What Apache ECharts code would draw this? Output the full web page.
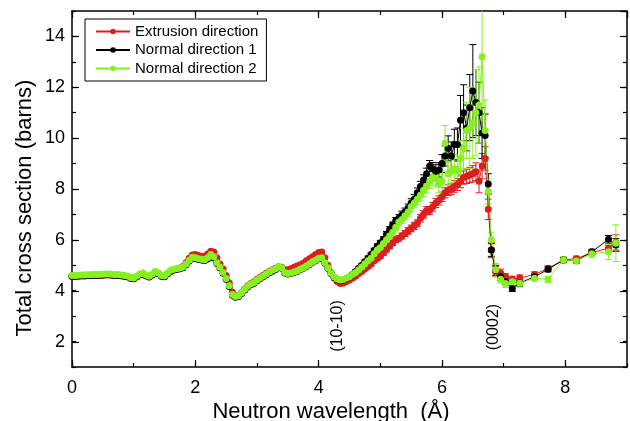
<!DOCTYPE html>
<html><head><meta charset="utf-8">
<script src="https://cdn.jsdelivr.net/npm/echarts@6/dist/echarts.min.js"></script>
<style>html,body{margin:0;padding:0;background:#fff}#c{width:630px;height:421px}</style>
</head><body><div id="c"></div>
<script>
// ---- data ----
const seriesNames = ['Extrusion direction', 'Normal direction 1', 'Normal direction 2'];
const wlDense = [
0.00,0.05,0.10,0.15,0.20,0.25,0.30,0.35,0.40,0.45,
0.50,0.55,0.60,0.65,0.70,0.75,0.80,0.85,0.90,0.95,
1.00,1.05,1.10,1.15,1.20,1.25,1.30,1.35,1.40,1.45,
1.50,1.55,1.60,1.65,1.70,1.75,1.80,1.85,1.90,1.95,
2.00,2.05,2.10,2.15,2.20,2.25,2.30,2.35,2.40,2.45,
2.50,2.55,2.60,2.65,2.70,2.75,2.80,2.85,2.90,2.95,
3.00,3.05,3.10,3.15,3.20,3.25,3.30,3.35,3.40,3.45,
3.50,3.55,3.60,3.65,3.70,3.75,3.80,3.85,3.90,3.95,
4.00,4.05,4.10,4.15,4.20,4.25,4.30,4.35,4.40,4.45,
4.50,4.55,4.60,4.65,4.70,4.75,4.80,4.85,4.90,4.95,
5.00,5.05,5.10,5.15,5.20,5.25,5.30,5.35,5.40,5.45,
5.50,5.55,5.60,5.65,5.70,5.75,5.80,5.85,5.90,5.95,
6.00,6.05,6.10,6.15,6.20,6.25,6.30,6.35,6.40,6.45,
6.50,6.55,6.60,6.65,6.70,6.75,6.80];
const wlSparse = [6.87,6.95,7.03,7.14,7.26,7.50,7.72,7.97,8.18,8.43,8.70,8.82];

const extDense = [
4.56,4.57,4.57,4.58,4.58,4.59,4.59,4.60,4.60,4.60,
4.61,4.62,4.62,4.61,4.60,4.60,4.59,4.57,4.55,4.50,
4.48,4.55,4.63,4.67,4.60,4.55,4.62,4.73,4.68,4.58,
4.56,4.67,4.77,4.82,4.85,4.89,4.95,5.10,5.28,5.40,
5.42,5.38,5.36,5.36,5.44,5.55,5.52,5.30,5.05,4.85,
4.60,4.30,3.95,3.80,3.80,3.92,4.07,4.20,4.28,4.35,
4.45,4.53,4.61,4.69,4.76,4.82,4.88,4.94,4.92,4.82,
4.82,4.86,4.92,4.97,5.02,5.08,5.18,5.26,5.34,5.42,
5.50,5.52,5.30,5.00,4.72,4.50,4.36,4.28,4.30,4.36,
4.42,4.50,4.58,4.68,4.76,4.86,4.95,5.05,5.18,5.28,
5.36,5.48,5.62,5.75,5.88,6.00,6.06,6.15,6.25,6.35,
6.45,6.55,6.65,6.85,7.00,7.15,7.15,7.30,7.45,7.55,
7.70,7.85,7.95,8.00,8.10,8.18,8.30,8.45,8.50,8.55,
8.60,8.68,8.30,8.90,9.20,7.20,5.60];
const n1Dense = [
4.57,4.57,4.58,4.59,4.59,4.60,4.60,4.61,4.61,4.61,
4.62,4.63,4.63,4.62,4.60,4.61,4.59,4.57,4.55,4.49,
4.47,4.55,4.63,4.67,4.59,4.54,4.62,4.73,4.67,4.57,
4.55,4.67,4.77,4.81,4.83,4.86,4.90,5.02,5.17,5.29,
5.27,5.23,5.21,5.19,5.25,5.38,5.29,5.07,4.89,4.69,
4.45,4.17,3.82,3.74,3.77,3.89,4.03,4.15,4.23,4.29,
4.39,4.47,4.55,4.63,4.71,4.77,4.83,4.91,4.88,4.70,
4.66,4.68,4.72,4.76,4.82,4.88,4.95,5.03,5.12,5.18,
5.26,5.28,5.08,4.88,4.68,4.53,4.44,4.40,4.42,4.48,
4.54,4.64,4.76,4.88,5.00,5.14,5.28,5.42,5.58,5.75,
5.88,6.02,6.22,6.40,6.58,6.75,6.85,6.98,7.10,7.25,
7.45,7.60,7.85,8.10,8.35,8.60,8.90,8.80,8.70,8.75,
9.00,9.30,9.60,9.30,9.75,9.75,10.70,11.00,10.40,11.20,
11.85,11.40,11.00,10.20,10.10,8.20,5.60];
const n2Dense = [
4.60,4.60,4.61,4.62,4.62,4.63,4.63,4.64,4.64,4.64,
4.65,4.66,4.66,4.65,4.63,4.64,4.62,4.60,4.58,4.52,
4.50,4.58,4.66,4.70,4.62,4.57,4.65,4.76,4.70,4.60,
4.58,4.70,4.80,4.84,4.86,4.89,4.93,5.05,5.20,5.32,
5.30,5.26,5.24,5.22,5.30,5.42,5.34,5.10,4.92,4.72,
4.48,4.20,3.85,3.77,3.80,3.92,4.06,4.18,4.26,4.32,
4.42,4.50,4.58,4.66,4.74,4.80,4.86,4.94,4.90,4.72,
4.68,4.70,4.74,4.78,4.84,4.90,4.97,5.05,5.14,5.20,
5.28,5.30,5.10,4.90,4.70,4.55,4.46,4.42,4.44,4.50,
4.55,4.64,4.72,4.82,4.93,5.06,5.18,5.28,5.45,5.60,
5.70,5.86,6.00,6.15,6.30,6.50,6.70,6.80,6.95,7.10,
7.30,7.45,7.60,7.75,7.95,8.10,8.30,8.45,8.40,8.20,
8.30,9.80,8.60,8.70,8.80,8.70,9.20,9.60,10.30,10.40,
10.60,11.00,11.30,13.20,10.30,7.90,6.00];

const extSparse = [4.75,4.70,4.55,4.45,4.50,4.64,4.88,5.21,5.26,5.50,5.67,5.90];
const n1Sparse  = [4.80,4.55,4.35,4.09,4.30,4.55,4.84,5.21,5.18,5.53,6.02,5.80];
const n2Sparse  = [4.82,4.45,4.28,4.35,4.29,4.49,4.45,5.21,5.18,5.45,5.53,5.87];

// error bars: given for dense points from this wavelength on, and for all sparse points
const errFromWl = 4.5;
const extErrDense = [
.04,.04,.05,.05,.05,.06,.06,.07,.07,.08,
.08,.09,.09,.10,.10,.11,.11,.12,.12,.13,
.13,.14,.14,.15,.15,.16,.16,.17,.18,.18,
.19,.20,.21,.22,.23,.24,.25,.26,.28,.30,
.32,.35,.45,.50,.46,.40,.30];
const n1ErrDense = [
.05,.05,.06,.06,.07,.07,.08,.08,.09,.09,
.10,.10,.11,.12,.12,.13,.14,.15,.15,.16,
.17,.18,.19,.20,.21,.22,.22,.24,.26,.28,
.35,.40,.49,.55,.60,.65,.98,1.10,.90,1.30,
1.83,1.30,1.20,1.00,.85,.40,.25];
const n2ErrDense = [
.05,.05,.06,.06,.07,.07,.08,.08,.09,.09,
.10,.10,.11,.12,.12,.13,.14,.15,.16,.17,
.18,.19,.20,.22,.24,.26,.28,.30,.32,.35,
.40,.70,.45,.50,.55,.60,.70,.80,1.10,1.60,
1.40,1.70,1.50,2.50,1.20,.50,.30];
const extErrSparse = [.20,.15,.12,.12,.12,.10,.10,.10,.10,.10,.12,.30];
const n1ErrSparse  = [.20,.15,.12,.12,.12,.10,.10,.10,.10,.10,.15,.25];
const n2ErrSparse  = [.25,.15,.15,.15,.15,.12,.12,.12,.12,.15,.30,.72];

const xMajorTicks = [0, 2, 4, 6, 8];
const yMajorTicks = [2, 4, 6, 8, 10, 12, 14];

// ---- build ----
const colors = ['#dc1e1e', '#000000', '#86f020'];
const FONT = 'Liberation Sans, Arial, sans-serif';

function pts(dense, sparse) {
  return wlDense.map((x, i) => [x, dense[i]]).concat(wlSparse.map((x, i) => [x, sparse[i]]));
}
function errPts(dense, sparse, errD, errS) {
  const start = wlDense.findIndex(x => x >= errFromWl - 1e-9);
  const out = [];
  for (let k = 0; k < errD.length; k++) out.push([wlDense[start + k], dense[start + k], errD[k]]);
  wlSparse.forEach((x, i) => out.push([x, sparse[i], errS[i]]));
  return out;
}
function errRender(color) {
  return function (params, api) {
    const x = api.value(0), y = api.value(1), e = api.value(2);
    const lo = api.coord([x, y - e]), hi = api.coord([x, y + e]);
    const hw = 3.5;
    const style = { stroke: color, lineWidth: 1, fill: null };
    return { type: 'group', children: [
      { type: 'line', shape: { x1: lo[0], y1: lo[1], x2: hi[0], y2: hi[1] }, style: style },
      { type: 'line', shape: { x1: lo[0] - hw, y1: lo[1], x2: lo[0] + hw, y2: lo[1] }, style: style },
      { type: 'line', shape: { x1: hi[0] - hw, y1: hi[1], x2: hi[0] + hw, y2: hi[1] }, style: style }
    ]};
  };
}
const allData = [
  [pts(extDense, extSparse), errPts(extDense, extSparse, extErrDense, extErrSparse)],
  [pts(n1Dense, n1Sparse), errPts(n1Dense, n1Sparse, n1ErrDense, n1ErrSparse)],
  [pts(n2Dense, n2Sparse), errPts(n2Dense, n2Sparse, n2ErrDense, n2ErrSparse)]
];
const series = [];
allData.forEach((d, i) => {
  series.push({
    type: 'custom', name: seriesNames[i] + ' err', xAxisIndex: 0, yAxisIndex: 0,
    renderItem: errRender(colors[i]), data: d[1], clip: true,
    encode: { x: 0, y: 1 }, silent: true, z: 2
  });
  series.push({
    type: 'line', name: seriesNames[i], xAxisIndex: 0, yAxisIndex: 0,
    data: d[0], symbol: 'circle', symbolSize: 7, showSymbol: true,
    lineStyle: { width: 1, color: colors[i] }, itemStyle: { color: colors[i] },
    clip: true, emphasis: { disabled: true }, z: 2
  });
});

const lineStyle = { color: '#000', width: 1.5 };
const gridBase = { left: 72, right: 3, top: 11, containLabel: false, outerBoundsMode: 'none' };
const fmtX = v => (xMajorTicks.indexOf(v) >= 0 ? String(v) : '');
const fmtY = v => (yMajorTicks.indexOf(v) >= 0 ? String(v) : '');

const option = {
  animation: false,
  backgroundColor: '#fff',
  grid: [
    Object.assign({}, gridBase, { bottom: 54 }),
    Object.assign({}, gridBase, { bottom: 54 }),
    Object.assign({}, gridBase, { bottom: 79 })
  ],
  xAxis: [
    { type: 'value', gridIndex: 0, position: 'bottom', min: 0, max: 9, interval: 1,
      axisLine: { show: true, onZero: false, lineStyle: lineStyle },
      axisTick: { show: true, inside: true, length: 4, lineStyle: { color: '#000', width: 1.2 } },
      axisLabel: { show: false }, splitLine: { show: false } },
    { type: 'value', gridIndex: 0, position: 'top', min: 0, max: 9, interval: 1,
      axisLine: { show: true, onZero: false, lineStyle: lineStyle },
      axisTick: { show: true, inside: true, length: 4, lineStyle: { color: '#000', width: 1.2 } },
      axisLabel: { show: false }, splitLine: { show: false } },
    { type: 'value', gridIndex: 1, position: 'bottom', min: 0, max: 9, interval: 2,
      axisLine: { show: false, onZero: false },
      axisTick: { show: true, inside: true, length: 7, lineStyle: { color: '#000', width: 1.2 } },
      axisLabel: { show: true, margin: 12, fontSize: 18, fontFamily: FONT, color: '#000',
        showMaxLabel: false, formatter: fmtX },
      splitLine: { show: false } },
    { type: 'value', gridIndex: 1, position: 'top', min: 0, max: 9, interval: 2,
      axisLine: { show: false, onZero: false },
      axisTick: { show: true, inside: true, length: 7, lineStyle: { color: '#000', width: 1.2 } },
      axisLabel: { show: false }, splitLine: { show: false } },
    { type: 'value', gridIndex: 2, show: false, min: 0, max: 9 }
  ],
  yAxis: [
    { type: 'value', gridIndex: 0, position: 'left', min: 1, max: 15, interval: 1,
      axisLine: { show: true, onZero: false, lineStyle: lineStyle },
      axisTick: { show: true, inside: true, length: 4, lineStyle: { color: '#000', width: 1.2 } },
      axisLabel: { show: false }, splitLine: { show: false } },
    { type: 'value', gridIndex: 0, position: 'right', min: 1, max: 15, interval: 1,
      axisLine: { show: true, onZero: false, lineStyle: lineStyle },
      axisTick: { show: true, inside: true, length: 4, lineStyle: { color: '#000', width: 1.2 } },
      axisLabel: { show: false }, splitLine: { show: false } },
    { type: 'value', gridIndex: 1, show: false, min: 1, max: 15 },
    { type: 'value', gridIndex: 2, position: 'left', min: 2, max: 15, interval: 2,
      axisLine: { show: false, onZero: false },
      axisTick: { show: true, inside: true, length: 7, lineStyle: { color: '#000', width: 1.2 } },
      axisLabel: { show: true, margin: 7, fontSize: 18, fontFamily: FONT, color: '#000',
        showMaxLabel: false, formatter: fmtY },
      splitLine: { show: false } },
    { type: 'value', gridIndex: 2, position: 'right', min: 2, max: 15, interval: 2,
      axisLine: { show: false, onZero: false },
      axisTick: { show: true, inside: true, length: 7, lineStyle: { color: '#000', width: 1.2 } },
      axisLabel: { show: false }, splitLine: { show: false } }
  ],
  legend: {
    data: seriesNames, orient: 'vertical', left: 85, top: 19,
    padding: [5, 8, 5, 10], itemGap: 3.5, itemWidth: 34, itemHeight: 7,
    backgroundColor: '#fff', borderColor: '#000', borderWidth: 1, borderRadius: 0,
    selectedMode: false,
    textStyle: { fontSize: 15, fontFamily: FONT, color: '#000' }
  },
  graphic: [
    { type: 'text', x: 25, y: 208, rotation: Math.PI / 2, silent: true,
      style: { text: 'Total cross section (barns)', fontSize: 22, fontFamily: FONT, fill: '#000',
        align: 'center', verticalAlign: 'middle' } },
    { type: 'text', x: 331, y: 412, silent: true,
      style: { text: 'Neutron wavelength  (Å)', fontSize: 22, fontFamily: FONT, fill: '#000',
        align: 'center', verticalAlign: 'middle' } },
    { type: 'text', x: 338, y: 326, rotation: Math.PI / 2, silent: true,
      style: { text: '(10-10)', fontSize: 16, fontFamily: FONT, fill: '#000',
        align: 'center', verticalAlign: 'middle' } },
    { type: 'text', x: 494, y: 327, rotation: Math.PI / 2, silent: true,
      style: { text: '(0002)', fontSize: 16, fontFamily: FONT, fill: '#000',
        align: 'center', verticalAlign: 'middle' } }
  ],
  series: series
};
const chart = echarts.init(document.getElementById('c'), null, { renderer: 'canvas' });
chart.setOption(option);
</script>
</body></html>
